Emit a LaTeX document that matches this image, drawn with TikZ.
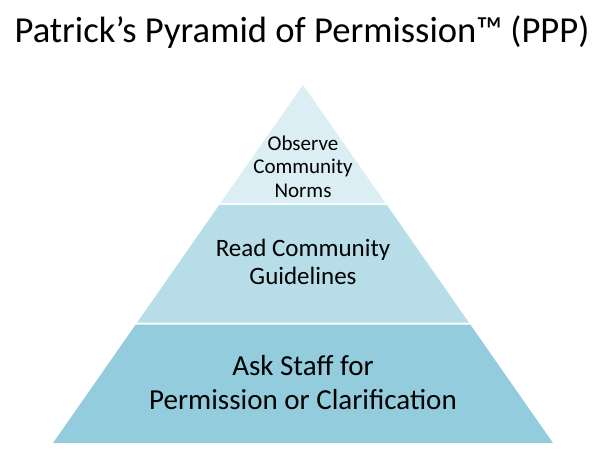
\documentclass[tikz,border=0pt]{standalone}
\usepackage{fontspec}
\setmainfont{Carlito}
\usepackage{xcolor}
\definecolor{tiptint}{HTML}{DAEEF3}
\definecolor{midtint}{HTML}{B7DEE8}
\definecolor{basetint}{HTML}{93CDDD}
\tikzset{layer/.style={draw=none},
  tiertext/.style={align=center,inner sep=0pt,text=black}}

\begin{document}
\begin{tikzpicture}[x=1pt,y=-1pt]
   \useasboundingbox (0,0) rectangle (605,466);
   \node[anchor=base,inner sep=0pt] (title) at (302,42.3) {\fontsize{36.6}{43}\selectfont Patrick’s Pyramid of Permission™ (PPP)};
   % the three tiers
   \fill[layer,tiptint] (303,85) -- (385.3,202.8) -- (220.7,202.8) -- cycle;
   \fill[layer,midtint] (219.3,204.8) -- (386.7,204.8) -- (469.0,322.7) -- (137.0,322.7) -- cycle;
   \fill[layer,basetint] (135.6,324.7) -- (470.4,324.7) -- (553,443) -- (53,443) -- cycle;
   \node[tiertext,font=\fontsize{21}{23.5}\selectfont] (normsbox) at (303,166.3) {Observe\\Community\\Norms};
   \node[tiertext,font=\fontsize{25}{28}\selectfont] (guidebox) at (303,261.6) {Read Community\\Guidelines};
   \node[tiertext,font=\fontsize{29}{34}\selectfont] (staffbox) at (303,382.4) {Ask Staff for\\Permission or Clarification};
\end{tikzpicture}
\end{document}
